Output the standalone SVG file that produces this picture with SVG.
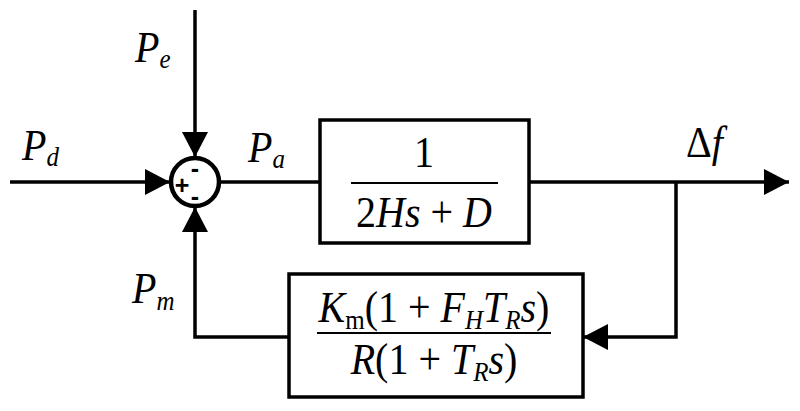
<svg xmlns="http://www.w3.org/2000/svg" width="800" height="411" viewBox="0 0 800 411">
<style>
text.t{font-family:'Liberation Serif','Times New Roman',serif;font-size:40px;fill:#000}
.i{font-style:italic}
.s{font-size:25px}
.ln{fill:none;stroke:#000;stroke-width:3.5}
.bx{fill:#fff;stroke:#000;stroke-width:3.5}
.fr{stroke:#000;stroke-width:2}
text.sg{font-family:'Liberation Sans',Arial,sans-serif;font-weight:bold;font-size:25px;fill:#000}
</style>
<defs>
<marker id="ah" markerUnits="userSpaceOnUse" markerWidth="26" markerHeight="28" refX="25" refY="13" orient="auto">
<path d="M0,0 L25,13 L0,26 Z" fill="#000"/>
</marker>
</defs>
<g id="connectors">
<path class="ln" d="M10,182 H170" marker-end="url(#ah)"/>
<path class="ln" d="M195,10 V157" marker-end="url(#ah)"/>
<path class="ln" d="M219,182 H320"/>
<path class="ln" d="M529,182 H789" marker-end="url(#ah)"/>
<path class="ln" d="M676,182 V337 H583" marker-end="url(#ah)"/>
<path class="ln" d="M289,337 H195 V207" marker-end="url(#ah)"/>
</g>
<g id="sum">
<circle cx="195" cy="182" r="24" fill="#fff" stroke="#000" stroke-width="4.5"/>
<text class="sg" x="195" y="177" text-anchor="middle">-</text>
<text class="sg" x="182" y="194" text-anchor="middle">+</text>
<text class="sg" x="195" y="205" text-anchor="middle">-</text>
</g>
<g id="plant">
<rect class="bx" x="320" y="120" width="209" height="123"/>
<line class="fr" x1="351" y1="183" x2="498" y2="183"/>
<text class="t" transform="translate(424,167) scale(1,1.1)" text-anchor="middle">1</text>
<text class="t" transform="translate(424,227) scale(1,1.1)" text-anchor="middle">2<tspan class="i">Hs</tspan> + <tspan class="i">D</tspan></text>
</g>
<g id="governor">
<rect class="bx" x="289" y="274" width="294" height="123"/>
<line class="fr" x1="317" y1="333" x2="551" y2="333"/>
<text class="t" transform="translate(434,322) scale(1,1.1)" text-anchor="middle"><tspan class="i">K</tspan><tspan class="s" dy="6">m</tspan><tspan dy="-6">(1 + </tspan><tspan class="i">F</tspan><tspan class="i s" dy="6">H</tspan><tspan class="i" dy="-6">T</tspan><tspan class="i s" dy="6">R</tspan><tspan class="i" dy="-6">s</tspan>)</text>
<text class="t" transform="translate(434,374) scale(1,1.1)" text-anchor="middle"><tspan class="i">R</tspan>(1 + <tspan class="i">T</tspan><tspan class="i s" dy="6">R</tspan><tspan class="i" dy="-6">s</tspan>)</text>
</g>
<g id="labels">
<text class="t" transform="translate(22,160) scale(1,1.1)"><tspan class="i">P</tspan><tspan class="i s" dy="5">d</tspan></text>
<text class="t" transform="translate(135,62) scale(1,1.1)"><tspan class="i">P</tspan><tspan class="i s" dy="5">e</tspan></text>
<text class="t" transform="translate(248,162) scale(1,1.1)"><tspan class="i">P</tspan><tspan class="i s" dy="5">a</tspan></text>
<text class="t" transform="translate(132,303) scale(1,1.1)"><tspan class="i">P</tspan><tspan class="i s" dy="6">m</tspan></text>
<text class="t" transform="translate(686,157) scale(1,1.1)">Δ<tspan class="i">f</tspan></text>
</g>
</svg>
